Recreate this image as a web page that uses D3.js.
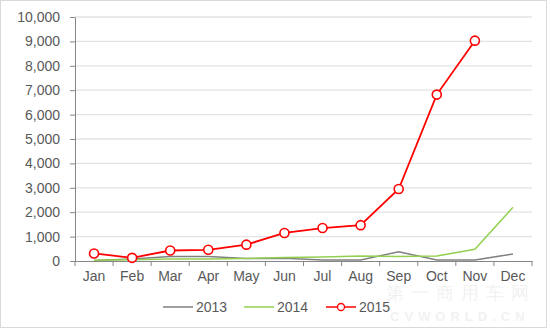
<!DOCTYPE html>
<html><head><meta charset="utf-8">
<script src="https://cdn.jsdelivr.net/npm/d3@7"></script>
<style>body{margin:0;background:#fff;}svg{display:block;font-family:"Liberation Sans",Arial,sans-serif;}</style>
</head><body>
<svg id="c" width="550" height="329"></svg>
<script>
const months = ["Jan","Feb","Mar","Apr","May","Jun","Jul","Aug","Sep","Oct","Nov","Dec"];
const s2013 = [20,80,180,180,100,110,40,40,380,40,40,290];
const s2014 = [30,50,80,80,100,140,160,210,180,205,480,2200];
const s2015 = [310,130,430,460,670,1150,1350,1470,2950,6820,9030];
const yTicks = [0,1000,2000,3000,4000,5000,6000,7000,8000,9000,10000];
const seriesNames = ["2013","2014","2015"];
const colors = ["#808080","#92d050","#ff0000"];

const svg = d3.select("#c");
const m = {l:75, r:532, t:17, b:261};
svg.append("rect").attr("x",0.5).attr("y",0.5).attr("width",546).attr("height",327)
  .attr("fill","#fff").attr("stroke","#d9d9d9");

const x = d3.scaleBand().domain(months).range([m.l,m.r]);
const y = d3.scaleLinear().domain([0,10000]).range([m.b,m.t]);

// gridlines
svg.append("g").selectAll("line").data(yTicks.slice(1)).join("line")
  .attr("x1",m.l).attr("x2",m.r).attr("y1",d=>y(d)).attr("y2",d=>y(d))
  .attr("stroke","#e3e3e3").attr("stroke-width",1.3);

// watermark
svg.append("text").attr("x",386).attr("y",299)
  .attr("font-size",18).attr("fill","#000").attr("opacity",0.05).attr("letter-spacing",7)
  .text("第一商用车网");
svg.append("text").attr("x",390).attr("y",321)
  .attr("font-size",13).attr("font-weight","bold").attr("fill","#000").attr("opacity",0.05).attr("letter-spacing",5)
  .text("CVWORLD.CN");

const fnt = "'Liberation Sans',Arial,sans-serif";
// y axis
const ya = svg.append("g").attr("transform",`translate(${m.l},0)`)
  .call(d3.axisLeft(y).tickValues(yTicks).tickFormat(d3.format(",")).tickSize(5).tickSizeOuter(0));
ya.select(".domain").attr("stroke","#868686");
ya.selectAll(".tick line").attr("stroke","#868686");
ya.selectAll(".tick text").attr("font-size",14).attr("fill","#595959").attr("x",-15)
  .attr("font-family",fnt);

// x axis
const xa = svg.append("g").attr("transform",`translate(0,${m.b})`)
  .call(d3.axisBottom(x).tickSize(0).tickSizeOuter(0));
xa.select(".domain").attr("stroke","#868686");
xa.selectAll(".tick text").attr("font-size",14).attr("fill","#595959").attr("dy","1.2em")
  .attr("font-family",fnt);
const bounds = months.map(d=>x(d)).concat([m.r]);
xa.selectAll(".bt").data(bounds).join("line").attr("class","bt")
  .attr("x1",d=>d).attr("x2",d=>d).attr("y1",0).attr("y2",5).attr("stroke","#868686");

const cx = d=>x(d)+x.bandwidth()/2;
const data = [s2013,s2014,s2015];
const line = d3.line().x((d,i)=>cx(months[i])).y(d=>y(d));
data.forEach((s,k)=>{
  svg.append("path").datum(s).attr("fill","none").attr("stroke",colors[k])
    .attr("stroke-width",k===2?1.8:1.5).attr("d",line);
});
svg.append("g").selectAll("circle").data(s2015).join("circle")
  .attr("cx",(d,i)=>cx(months[i])).attr("cy",d=>y(d)).attr("r",4.5)
  .attr("fill","#fff").attr("stroke","#ff0000").attr("stroke-width",1.6);

// legend
const lg = svg.append("g");
const lx = [163,244,326];
seriesNames.forEach((n,k)=>{
  lg.append("line").attr("x1",lx[k]).attr("x2",lx[k]+30).attr("y1",307).attr("y2",307)
    .attr("stroke",colors[k]).attr("stroke-width",1.5);
  if(k===2) lg.append("circle").attr("cx",lx[k]+15).attr("cy",307).attr("r",3.5)
    .attr("fill","#fff").attr("stroke",colors[k]).attr("stroke-width",1.3);
  lg.append("text").attr("x",lx[k]+33).attr("y",312).attr("font-size",14).attr("fill","#595959").text(n);
});
</script>
</body></html>
